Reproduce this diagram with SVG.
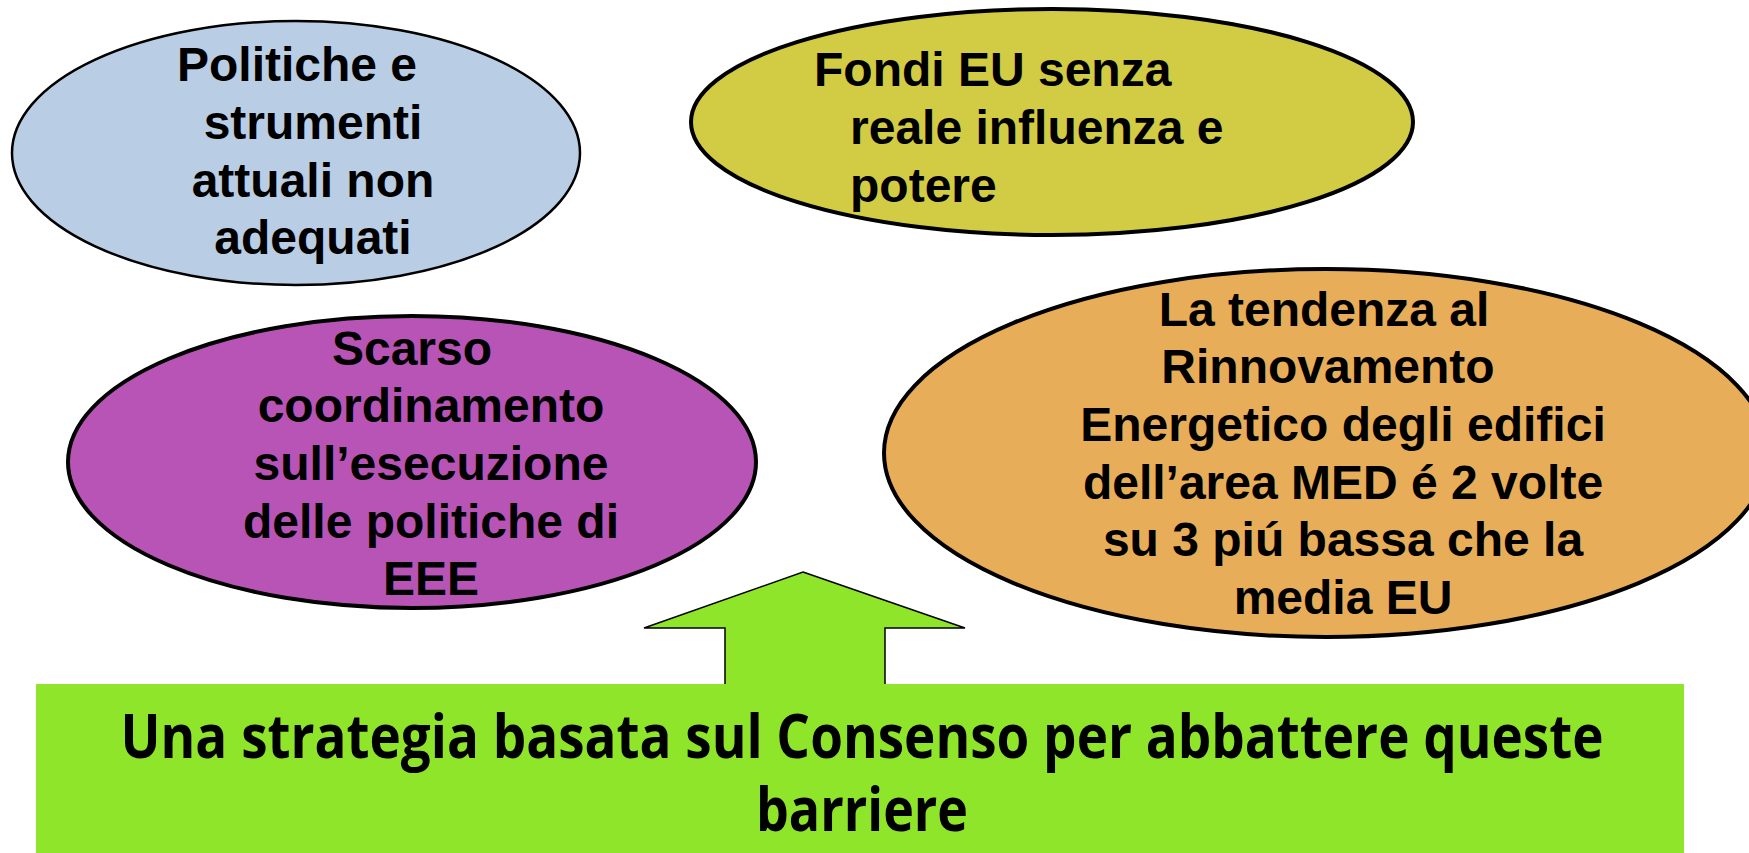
<svg xmlns="http://www.w3.org/2000/svg" width="1749" height="853" viewBox="0 0 1749 853">
<style>
.t{font-family:"Liberation Sans",Arial,sans-serif;font-weight:bold;font-size:48px;fill:#000}
.m{text-anchor:middle}
.b{font-family:"Open Sans","Liberation Sans",sans-serif;font-weight:bold;font-size:60px;fill:#000;text-anchor:middle}
</style>
<rect width="1749" height="853" fill="#fff"/>
<g id="node-politiche">
<ellipse cx="296" cy="153" rx="284" ry="132" fill="#b9cde4" stroke="#000" stroke-width="2.5"/>
<text class="t m" x="297" y="81">Politiche e</text>
<text class="t m" x="313" y="139">strumenti</text>
<text class="t m" x="313" y="197">attuali non</text>
<text class="t m" x="313" y="254">adequati</text>
</g>
<g id="node-fondi">
<ellipse cx="1052" cy="122" rx="361" ry="113" fill="#d2cb44" stroke="#000" stroke-width="4"/>
<text class="t" x="814" y="86">Fondi EU senza</text>
<text class="t" x="850" y="144">reale influenza e</text>
<text class="t" x="850" y="202">potere</text>
</g>
<g id="node-scarso">
<ellipse cx="412" cy="462" rx="344" ry="146" fill="#b854b6" stroke="#000" stroke-width="4"/>
<text class="t m" x="412" y="365">Scarso</text>
<text class="t m" x="431" y="422">coordinamento</text>
<text class="t m" x="431" y="480">sull’esecuzione</text>
<text class="t m" x="431" y="538">delle politiche di</text>
<text class="t m" x="431" y="595">EEE</text>
</g>
<g id="node-tendenza">
<ellipse cx="1326" cy="453" rx="442" ry="184" fill="#e8ad58" stroke="#000" stroke-width="4"/>
<text class="t m" x="1324" y="326">La tendenza al</text>
<text class="t m" x="1328" y="383">Rinnovamento</text>
<text class="t m" x="1343" y="441">Energetico degli edifici</text>
<text class="t m" x="1343" y="499">dell’area MED é 2 volte</text>
<text class="t m" x="1343" y="556">su 3 piú bassa che la</text>
<text class="t m" x="1343" y="614">media EU</text>
</g>
<g id="connectors">
<polygon points="803,572 965,628 885,628 885,690 725,690 725,628 644,628" fill="#8fe52a" stroke="#000" stroke-width="1.5"/>
</g>
<g id="node-strategia">
<rect x="36" y="684" width="1648" height="169" fill="#8fe52a"/>
<text class="b" x="862" y="758" textLength="1483" lengthAdjust="spacingAndGlyphs">Una strategia basata sul Consenso per abbattere queste</text>
<text class="b" x="862" y="831" textLength="212" lengthAdjust="spacingAndGlyphs">barriere</text>
</g>
</svg>
